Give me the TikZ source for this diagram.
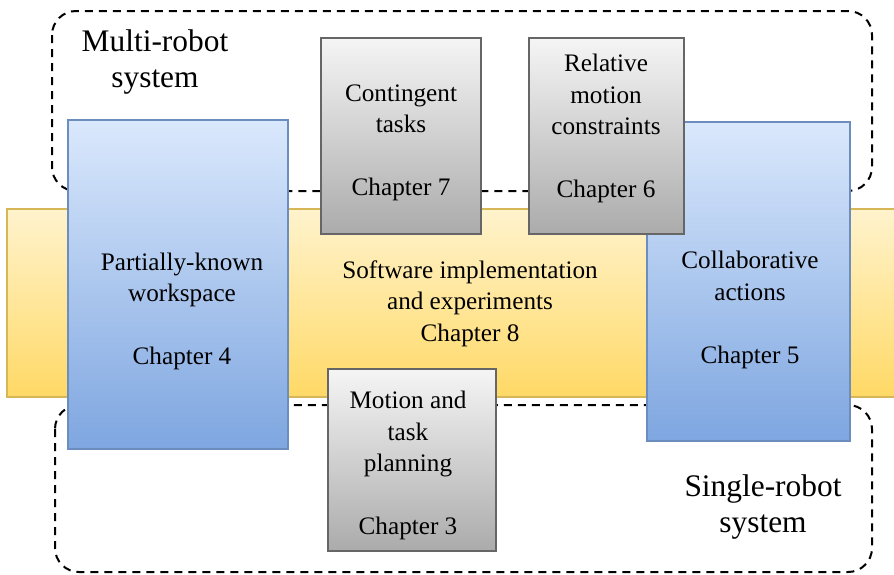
\documentclass[tikz,border=0pt]{standalone}
\usepackage{fontspec}
\setmainfont{Liberation Serif}
\usepackage{xcolor}
\usepackage{tikz}
\usetikzlibrary{positioning}

\definecolor{bandtop}{HTML}{FFF3CD}
\definecolor{bandbot}{HTML}{FFD966}
\definecolor{bandline}{HTML}{D6B656}
\definecolor{bluetop}{HTML}{DAE8FC}
\definecolor{bluebot}{HTML}{7EA6E0}
\definecolor{blueline}{HTML}{6C8EBF}
\definecolor{graytop}{HTML}{F5F5F5}
\definecolor{graybot}{HTML}{ABABAB}
\definecolor{grayline}{HTML}{666666}

\begin{document}
\begin{tikzpicture}[
  x=0.5pt, y=-0.5pt,
  sysbox/.style={draw=black, line width=1pt, dash pattern=on 4pt off 3pt, rounded corners=12pt},
  band/.style={draw=bandline, line width=0.9pt, top color=bandtop, bottom color=bandbot, rectangle, inner sep=0pt},
  bluebox/.style={draw=blueline, line width=0.9pt, top color=bluetop, bottom color=bluebot, rectangle, inner sep=0pt},
  graybox/.style={draw=grayline, line width=0.9pt, top color=graytop, bottom color=graybot, rectangle, inner sep=0pt},
  txt/.style={align=center, inner sep=0pt, font=\fontsize{12.6}{15.7}\selectfont},
  systxt/.style={align=center, inner sep=0pt, font=\fontsize{15.7}{18}\selectfont}
]
\useasboundingbox (0,0) rectangle (894,574);

% robot system groups
\draw[sysbox] (52,11) rectangle (872,191);
\draw[sysbox] (55,405) rectangle (872,572);
\node[systxt] (multi) at (155,62) {Multi-robot\\system};
\node[systxt] (single) at (763,507) {Single-robot\\system};

% software band
\node[band, minimum width=445pt, minimum height=94pt] (soft) at (452,303) {};
\node[txt] (softtext) at (470,303.5) {Software implementation\\and experiments\\Chapter 8};

% blue chapters
\node[bluebox, minimum width=110pt, minimum height=164.5pt] (pkw) at (178,284.5) {};
\node[txt] (pkwtext) at (182,311.5) {Partially-known\\workspace\\[15.7pt]Chapter 4};
\node[bluebox, minimum width=101.5pt, minimum height=159.5pt] (collab) at (748.5,281.5) {};
\node[txt] (collabtext) at (750,310) {Collaborative\\actions\\[15.7pt]Chapter 5};

% gray chapters
\node[graybox, minimum width=80pt, minimum height=98pt] (cont) at (401,136) {};
\node[txt] (conttext) at (401,142.5) {Contingent\\tasks\\[15.7pt]Chapter 7};
\node[graybox, minimum width=77.5pt, minimum height=98pt] (rel) at (606.5,136) {};
\node[txt] (reltext) at (606,128.5) {Relative\\motion\\constraints\\[15.7pt]Chapter 6};
\node[graybox, minimum width=84pt, minimum height=91pt] (plan) at (412,460) {};
\node[txt] (plantext) at (408,465.5) {Motion and\\task\\planning\\[15.7pt]Chapter 3};
\end{tikzpicture}
\end{document}
